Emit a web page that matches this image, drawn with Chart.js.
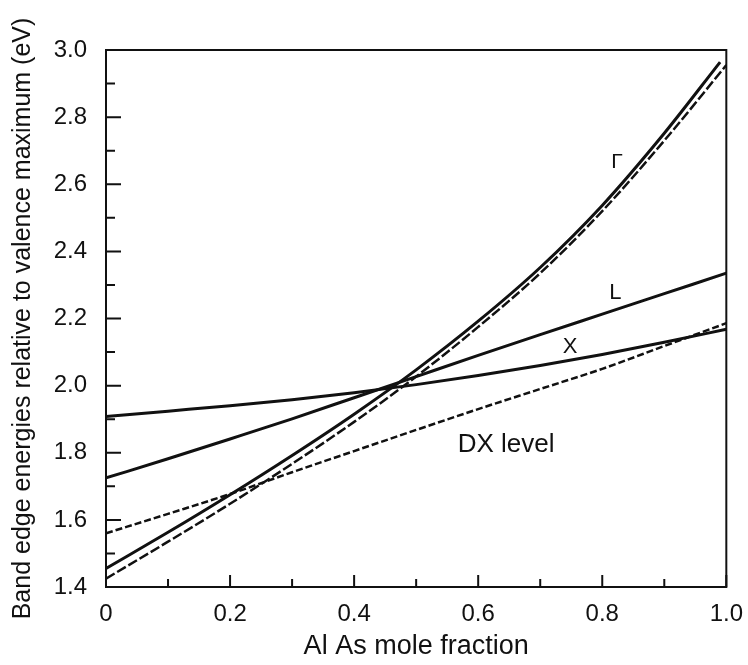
<!DOCTYPE html>
<html>
<head>
<meta charset="utf-8">
<script src="https://cdn.jsdelivr.net/npm/chart.js@4.4.1/dist/chart.umd.min.js"></script>
<style>
  html, body { margin: 0; padding: 0; background: #fff; }
  #wrap { width: 748px; height: 665px; }
</style>
</head>
<body>
<div id="wrap"><canvas id="chartBandas"></canvas></div>
<script>
// Dados (fração molar de AlAs x energia em eV)
const fracao = [0, 0.1, 0.2, 0.3, 0.4, 0.5, 0.6, 0.7, 0.8, 0.9, 0.99];
const gammaSolida = [1.455, 1.563, 1.675, 1.792, 1.915, 2.047, 2.192, 2.352, 2.537, 2.752, 2.964];
const fracaoCompleta = [0, 0.1, 0.2, 0.3, 0.4, 0.5, 0.6, 0.7, 0.8, 0.9, 1.0];
const gammaTracejada = [1.425, 1.535, 1.648, 1.767, 1.892, 2.027, 2.175, 2.335, 2.52, 2.73, 2.955];
const vale_L = [1.725, 1.782, 1.841, 1.901, 1.964, 2.027, 2.09, 2.152, 2.213, 2.274, 2.335];
const vale_X = [1.908, 1.924, 1.94, 1.958, 1.979, 2.003, 2.03, 2.06, 2.093, 2.129, 2.168];
const nivelDX = [1.56, 1.618, 1.677, 1.742, 1.805, 1.868, 1.93, 1.99, 2.05, 2.118, 2.186];

// Marcas dos eixos
const xTicks = [0, 0.2, 0.4, 0.6, 0.8, 1.0];
const xTickLabels = ['0', '0.2', '0.4', '0.6', '0.8', '1.0'];
const xMinorTicks = [0.1, 0.3, 0.5, 0.7, 0.9];
const yTicks = [1.4, 1.6, 1.8, 2.0, 2.2, 2.4, 2.6, 2.8, 3.0];
const yTickLabels = ['1.4', '1.6', '1.8', '2.0', '2.2', '2.4', '2.6', '2.8', '3.0'];
const yMinorTicks = [1.5, 1.7, 1.9, 2.1, 2.3, 2.5, 2.7, 2.9];

// Rótulos das curvas (texto, x, energia)
const rotulos = ['\u0393', 'L', 'X', 'DX level'];
const rotulosX = [0.824, 0.821, 0.748, 0.645];
const rotulosY = [2.667, 2.275, 2.116, 1.823];
const rotulosTam = [21, 22, 22, 26];

const fonte = "'Liberation Sans', Arial, sans-serif";
const preto = '#111';

function pontos(xs, ys) {
  return xs.map(function(x, i) { return { x: x, y: ys[i] }; });
}

// Marcas internas, moldura e rótulos
const moldura = {
  id: 'moldura',
  afterDraw: function(chart) {
    const ctx = chart.ctx;
    const area = chart.chartArea;
    const sx = chart.scales.x;
    const sy = chart.scales.y;
    ctx.save();
    ctx.strokeStyle = preto;
    ctx.lineWidth = 2;
    ctx.strokeRect(area.left, area.top, area.right - area.left, area.bottom - area.top);
    ctx.beginPath();
    yTicks.forEach(function(v) {
      const py = sy.getPixelForValue(v);
      ctx.moveTo(area.left, py); ctx.lineTo(area.left + 15, py);
    });
    yMinorTicks.forEach(function(v) {
      const py = sy.getPixelForValue(v);
      ctx.moveTo(area.left, py); ctx.lineTo(area.left + 9, py);
    });
    xTicks.forEach(function(v) {
      const px = sx.getPixelForValue(v);
      ctx.moveTo(px, area.bottom); ctx.lineTo(px, area.bottom - 12);
    });
    xMinorTicks.forEach(function(v) {
      const px = sx.getPixelForValue(v);
      ctx.moveTo(px, area.bottom); ctx.lineTo(px, area.bottom - 8);
    });
    ctx.stroke();

    ctx.fillStyle = preto;
    ctx.textAlign = 'center';
    ctx.textBaseline = 'middle';
    rotulos.forEach(function(t, i) {
      ctx.font = rotulosTam[i] + 'px ' + fonte;
      ctx.fillText(t, sx.getPixelForValue(rotulosX[i]), sy.getPixelForValue(rotulosY[i]));
    });
    ctx.restore();
  }
};

const canvas = document.getElementById('chartBandas');
new Chart(canvas, {
  type: 'line',
  data: {
    datasets: [
      {
        label: 'Gamma',
        data: pontos(fracao, gammaSolida),
        borderColor: preto,
        borderWidth: 3,
        cubicInterpolationMode: 'monotone'
      },
      {
        label: 'Gamma (tracejada)',
        data: pontos(fracaoCompleta, gammaTracejada),
        borderColor: preto,
        borderWidth: 2.5,
        borderDash: [10, 3],
        cubicInterpolationMode: 'monotone'
      },
      {
        label: 'L',
        data: pontos(fracaoCompleta, vale_L),
        borderColor: preto,
        borderWidth: 3,
        cubicInterpolationMode: 'monotone'
      },
      {
        label: 'X',
        data: pontos(fracaoCompleta, vale_X),
        borderColor: preto,
        borderWidth: 3,
        cubicInterpolationMode: 'monotone'
      },
      {
        label: 'DX level',
        data: pontos(fracaoCompleta, nivelDX),
        borderColor: preto,
        borderWidth: 2.5,
        borderDash: [7, 3],
        cubicInterpolationMode: 'monotone'
      }
    ]
  },
  options: {
    responsive: true,
    maintainAspectRatio: false,
    animation: false,
    elements: { point: { radius: 0 } },
    layout: { padding: { top: 50, right: 12, bottom: 0, left: 0 } },
    plugins: {
      legend: { display: false },
      tooltip: { enabled: false }
    },
    scales: {
      x: {
        type: 'linear',
        min: 0,
        max: 1,
        grid: { display: false },
        border: { display: true, color: preto, width: 2 },
        afterBuildTicks: function(scale) {
          scale.ticks = xTicks.map(function(v) { return { value: v }; });
        },
        afterFit: function(scale) { scale.height = 78; },
        ticks: {
          color: preto,
          font: { family: fonte, size: 24 },
          padding: 5,
          maxRotation: 0,
          autoSkip: false,
          callback: function(value, index) { return xTickLabels[index]; }
        },
        title: {
          display: true,
          text: 'Al As mole fraction',
          color: preto,
          font: { family: fonte, size: 27 },
          padding: { top: 0, bottom: 2 }
        }
      },
      y: {
        type: 'linear',
        min: 1.4,
        max: 3.0,
        grid: { display: false },
        border: { display: true, color: preto, width: 2 },
        afterBuildTicks: function(scale) {
          scale.ticks = yTicks.map(function(v) { return { value: v }; });
        },
        afterFit: function(scale) { scale.width = 106; },
        ticks: {
          color: preto,
          font: { family: fonte, size: 24 },
          padding: 11,
          autoSkip: false,
          callback: function(value, index) { return yTickLabels[index]; }
        },
        title: {
          display: true,
          text: 'Band edge energies relative to valence maximum (eV)',
          color: preto,
          font: { family: fonte, size: 25 },
          padding: { top: 8, bottom: 0 }
        }
      }
    }
  },
  plugins: [moldura]
});
</script>
</body>
</html>
